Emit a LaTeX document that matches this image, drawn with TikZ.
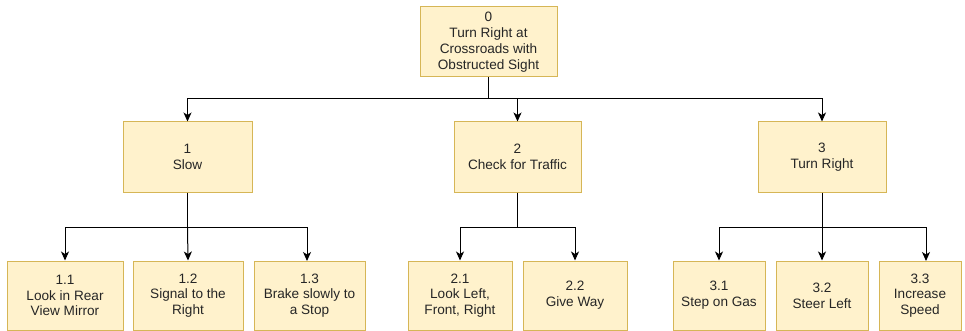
\documentclass[tikz,border=0pt]{standalone}
\usepackage{fontspec}
\setmainfont{Liberation Sans}
\usetikzlibrary{arrows.meta}
\definecolor{boxfill}{HTML}{FFF2CC}
\definecolor{boxdraw}{HTML}{D6B656}
\definecolor{txt}{HTML}{262626}
\tikzset{
  box/.style={draw=boxdraw, fill=boxfill, line width=1pt, align=center, inner sep=0pt,
    text=txt, font=\fontsize{13.6}{15.8}\selectfont},
  conn/.style={draw=black, line width=1pt},
  arr/.style={conn, -{Stealth[length=9pt,width=8pt,inset=2.5pt]}},
}
\begin{document}
\begin{tikzpicture}[x=1pt,y=-1pt]
\useasboundingbox (0,0) rectangle (965,331);
% top
\node[box, minimum width=137pt, minimum height=70pt] (n0) at (488.5,42) {0\\Turn Right at\\Crossroads with\\Obstructed Sight};
% level 1
\node[box, minimum width=129pt, minimum height=70pt] (n1) at (187.5,157) {1\\Slow};
\node[box, minimum width=127pt, minimum height=70pt] (n2) at (517.5,157) {2\\Check for Traffic};
\node[box, minimum width=128pt, minimum height=70pt] (n3) at (822,157) {3\\Turn Right};
% level 2
\node[box, minimum width=116pt, minimum height=69pt] (n11) at (65,295.5) {1.1\\Look in Rear\\View Mirror};
\node[box, minimum width=110pt, minimum height=69pt] (n12) at (188,295.5) {1.2\\Signal to the\\Right};
\node[box, minimum width=111pt, minimum height=69pt] (n13) at (309.5,295.5) {1.3\\Brake slowly to\\a Stop};
\node[box, minimum width=104pt, minimum height=69pt] (n21) at (460,295.5) {2.1\\Look Left,\\Front, Right};
\node[box, minimum width=104pt, minimum height=69pt] (n22) at (575,295.5) {2.2\\Give Way};
\node[box, minimum width=92pt, minimum height=69pt] (n31) at (719,295.5) {3.1\\Step on Gas};
\node[box, minimum width=92pt, minimum height=69pt] (n32) at (822,295.5) {3.2\\Steer Left};
\node[box, minimum width=82pt, minimum height=69pt] (n33) at (920,295.5) {3.3\\Increase\\Speed};
% bus points
\coordinate (b0) at (n0.south |- 0,99);
\coordinate (b1) at (n1.south |- 0,227);
\coordinate (b2) at (n2.south |- 0,227);
\coordinate (b3) at (n3.south |- 0,227);
\coordinate (t13) at (307,261);
\coordinate (t33) at (926,261);
% connectors
\draw[conn] (n0.south) -- (b0);
\draw[arr] (b0) -| (n1.north);
\draw[arr] (b0) -| (n2.north);
\draw[arr] (b0) -| (n3.north);
\draw[conn] (n1.south) -- (b1);
\draw[arr] (b1) -| (n11.north);
\draw[arr] (b1) -- (n12.north);
\draw[arr] (b1) -| (t13);
\draw[conn] (n2.south) -- (b2);
\draw[arr] (b2) -| (n21.north);
\draw[arr] (b2) -| (n22.north);
\draw[conn] (n3.south) -- (b3);
\draw[arr] (b3) -| (n31.north);
\draw[arr] (b3) -- (n32.north);
\draw[arr] (b3) -| (t33);
\end{tikzpicture}
\end{document}
